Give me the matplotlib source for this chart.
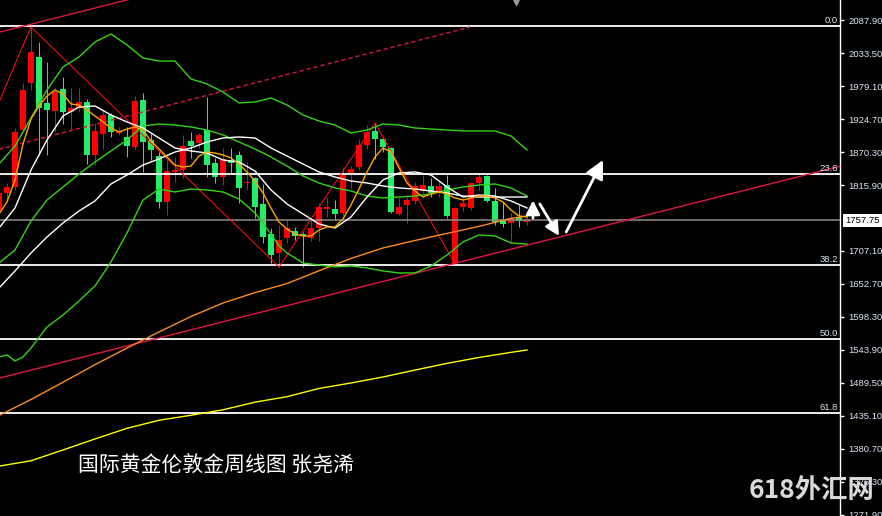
import matplotlib
matplotlib.use('Agg')
import matplotlib.pyplot as plt
import matplotlib.transforms as mtransforms

# ---------------- data (weekly gold candles) ----------------
opens = [1774.7, 1802.7, 1812.6, 1906.6, 1984.1, 2026.9, 1951.1, 1937.9, 1974.2, 1936.3,
         1942.9, 1952.8, 1865.4, 1900.0, 1931.3, 1901.6, 1895.1, 1878.6, 1956.0, 1890.1,
         1863.7, 1787.9, 1837.4, 1840.7, 1888.5, 1885.2, 1906.6, 1852.2, 1829.1, 1857.1,
         1865.4, 1819.2, 1827.5, 1784.6, 1735.2, 1703.8, 1728.6, 1740.1, 1735.2, 1728.6,
         1745.0, 1776.4, 1776.4, 1769.8, 1835.7, 1845.6, 1881.9, 1904.9, 1891.8, 1876.9,
         1768.1, 1783.0, 1789.6, 1806.0, 1814.3, 1804.4, 1815.9, 1687.3, 1779.7, 1778.0,
         1819.2, 1830.8, 1789.6, 1756.6, 1753.3, 1763.2, 1754.9]
highs = [1807.7, 1819.2, 1909.9, 1984.1, 2076.4, 2051.7, 2018.7, 1975.8, 1994.0, 1975.8,
         1975.8, 1957.7, 1918.1, 1939.6, 1934.6, 1911.5, 1911.5, 1962.6, 1967.6, 1901.6,
         1870.3, 1857.1, 1862.1, 1898.4, 1903.3, 1901.6, 1961.0, 1860.4, 1876.9, 1876.9,
         1872.0, 1853.8, 1829.1, 1817.6, 1745.0, 1750.0, 1758.2, 1746.7, 1738.4, 1761.5,
         1786.3, 1796.1, 1791.2, 1845.6, 1847.2, 1891.8, 1914.8, 1918.1, 1895.1, 1878.6,
         1794.5, 1796.1, 1820.9, 1832.4, 1827.5, 1820.9, 1832.4, 1779.7, 1794.5, 1820.9,
         1835.7, 1832.4, 1811.0, 1787.9, 1769.8, 1783.0, 1764.8]
lows = [1766.5, 1791.2, 1807.7, 1903.3, 1972.5, 1865.4, 1865.4, 1903.3, 1916.5, 1906.6,
        1936.3, 1850.5, 1848.9, 1875.3, 1895.1, 1898.4, 1862.1, 1875.3, 1837.4, 1857.1,
        1778.0, 1766.5, 1820.9, 1827.5, 1860.4, 1876.9, 1829.1, 1819.2, 1815.9, 1835.7,
        1786.3, 1807.7, 1761.5, 1720.3, 1687.3, 1680.8, 1720.3, 1725.3, 1680.8, 1723.6,
        1723.6, 1763.2, 1758.2, 1764.8, 1811.0, 1840.7, 1875.3, 1858.8, 1870.3, 1769.8,
        1766.5, 1753.3, 1784.6, 1802.7, 1796.1, 1796.1, 1761.5, 1685.7, 1773.1, 1774.7,
        1807.7, 1787.9, 1750.0, 1746.7, 1722.0, 1746.7, 1750.0]
closes = [1802.7, 1812.6, 1903.3, 1972.5, 2035.2, 1942.9, 1939.6, 1969.2, 1936.3, 1942.9,
          1952.8, 1865.4, 1904.9, 1931.3, 1903.3, 1904.9, 1880.2, 1954.4, 1886.8, 1873.6,
          1787.9, 1839.0, 1840.7, 1880.2, 1880.2, 1898.4, 1848.9, 1829.1, 1858.8, 1852.2,
          1811.0, 1820.9, 1779.7, 1730.2, 1700.5, 1725.3, 1745.0, 1731.9, 1731.9, 1745.0,
          1779.7, 1779.7, 1768.1, 1834.1, 1842.3, 1881.9, 1903.3, 1891.8, 1878.6, 1771.4,
          1779.7, 1791.2, 1814.3, 1815.9, 1802.7, 1814.3, 1764.8, 1778.0, 1786.3, 1819.2,
          1829.1, 1789.6, 1754.9, 1751.6, 1761.5, 1756.6, 1757.75]

# fast moving average (orange), one value per candle
ma_fast = [1768.1, 1787.9, 1824.2, 1883.5, 1924.7, 1946.2, 1962.6, 1972.5, 1965.9, 1949.5,
           1947.8, 1939.6, 1929.7, 1919.8, 1909.9, 1903.3, 1908.2, 1911.5, 1906.6, 1888.5,
           1875.3, 1862.1, 1848.9, 1845.6, 1847.2, 1863.7, 1870.3, 1868.7, 1865.4, 1860.4,
           1850.5, 1837.4, 1822.5, 1802.7, 1778.0, 1754.9, 1743.4, 1735.2, 1731.9, 1731.9,
           1741.7, 1746.7, 1746.7, 1759.9, 1783.0, 1809.3, 1837.4, 1862.1, 1876.9, 1870.3,
           1844.0, 1819.2, 1806.0, 1796.1, 1801.1, 1804.4, 1801.1, 1794.5, 1791.2, 1794.5,
           1797.8, 1797.8, 1794.5, 1787.9, 1774.7, 1764.8, 1763.2]

# lines sampled every second candle
idx2 = [0, 2, 4, 6, 8, 10, 12, 14, 16, 18, 20, 22, 24, 26, 28, 30, 32,
        34, 36, 38, 40, 42, 44, 46, 48, 50, 52, 54, 56, 58, 60, 62, 64, 66]
ma_white1 = [1745.0, 1778.0, 1840.7, 1890.1, 1929.7, 1944.5, 1946.2, 1931.3, 1919.8, 1909.9,
             1893.4, 1876.9, 1872.0, 1868.7, 1857.1, 1853.8, 1839.0, 1807.7, 1784.6, 1768.1,
             1751.6, 1745.0, 1763.2, 1796.1, 1824.2, 1835.7, 1837.4, 1832.4, 1812.6, 1796.1,
             1799.4, 1797.8, 1789.6, 1778.0]
ma_white2 = [1646.1, 1674.2, 1703.8, 1730.2, 1753.3, 1773.1, 1789.6, 1817.6, 1832.4, 1848.9,
             1858.8, 1870.3, 1876.9, 1886.8, 1893.4, 1895.1, 1893.4, 1876.9, 1863.7, 1850.5,
             1837.4, 1829.1, 1822.5, 1819.2, 1814.3, 1811.0, 1809.3, 1806.0, 1802.7, 1797.8,
             1796.1, 1796.1, 1796.1, 1796.1]
bb_upper = [1850.5, 1880.2, 1926.4, 1972.5, 2010.5, 2026.9, 2051.7, 2064.9, 2046.7, 2025.3,
            2020.3, 2020.3, 1990.7, 1982.4, 1969.2, 1951.1, 1952.8, 1959.3, 1947.8, 1931.3,
            1921.4, 1914.8, 1901.6, 1906.6, 1916.5, 1914.8, 1909.9, 1908.2, 1906.6, 1904.9,
            1904.9, 1904.9, 1896.7, 1873.6]
bb_middle = [1687.3, 1708.8, 1756.6, 1791.2, 1812.6, 1834.1, 1853.8, 1872.0, 1890.1, 1913.2,
             1916.5, 1914.8, 1911.5, 1906.6, 1898.4, 1886.8, 1875.3, 1862.1, 1847.2, 1830.8,
             1819.2, 1811.0, 1806.0, 1797.8, 1794.5, 1796.1, 1797.8, 1801.1, 1807.7, 1812.6,
             1815.9, 1817.6, 1811.0, 1797.8]
bb_lower_idx = [0, 1, 2, 3, 4, 6, 8, 10, 12, 14, 16, 18, 20, 22, 24, 26, 28, 30, 32, 34, 35,
                36, 38, 40, 42, 44, 46, 48, 50, 52, 54, 56, 58, 60, 62, 64, 66]
bb_lower = [1532.4, 1535.7, 1525.8, 1532.4, 1547.2, 1581.8, 1601.6, 1624.7, 1649.4, 1689.0,
            1736.8, 1791.2, 1809.3, 1804.4, 1809.3, 1807.7, 1804.4, 1792.8, 1769.8, 1735.2,
            1715.4, 1703.8, 1687.3, 1684.0, 1680.8, 1682.4, 1679.1, 1674.2, 1670.9, 1670.9,
            1682.4, 1700.5, 1722.0, 1733.5, 1731.9, 1720.3, 1718.7]

# slow averages sampled every fourth candle (+ last)
idx4 = [0, 4, 8, 12, 16, 20, 24, 28, 32, 36, 40, 44, 48, 52, 56, 60, 64, 66]
ma_orange_slow = [1435.9, 1462.3, 1490.7, 1519.7, 1547.2, 1573.6, 1599.1, 1621.4, 1638.5,
                  1653.4, 1674.5, 1694.8, 1712.1, 1724.4, 1736.1, 1747.7, 1760.9, 1764.8]
ma_yellow = [1352.4, 1361.3, 1379.1, 1397.2, 1414.8, 1428.0, 1436.3, 1445.3, 1457.9, 1466.9,
             1480.5, 1489.5, 1499.4, 1510.8, 1521.8, 1531.6, 1540.0, 1543.9]

# zigzag pivots
zigzag_x = [0, 4, 35, 47, 57]
zigzag_y = [1952.8, 2076.4, 1680.8, 1918.1, 1685.7]

# trend lines (candle index, price)
trend_low_x, trend_low_y = [0, 105.2], [1497.4, 1847.0]
trend_top_x, trend_top_y = [0, 17], [2067.7, 2124.3]
trend_dash_x, trend_dash_y = [0, 58.9], [1874.8, 2076.4]

# Fibonacci levels
fib_levels = [2078.0, 1834.4, 1683.8, 1562.0, 1440.2]
fib_labels = ['0.0', '23.6', '38.2', '50.0', '61.8']

last_price = 1757.75
ytick_vals = [2087.90, 2033.50, 1979.10, 1924.70, 1870.30, 1815.90, 1707.10, 1652.70,
              1598.30, 1543.90, 1489.50, 1435.10, 1380.70, 1326.30, 1271.90]

# hand-drawn arrows (start, end)
arrows = [((66.75, 1761.5), (66.75, 1790.5), 15),
          ((67.6, 1784.6), (70.0, 1731.9), 15),
          ((70.9, 1738.4), (75.5, 1857.1), 20)]

title_text = '国际黄金伦敦金周线图 张尧浠'
watermark = '618外汇网'

# ---------------- drawing ----------------
W, H = 882, 516
fig = plt.figure(figsize=(W / 100, H / 100), dpi=100, facecolor='black')
ax = fig.add_axes([0, 0, 840 / W, 1])
ax.set_facecolor('black')
ax.set_xlim(0.125, 105.125)
ax.set_ylim(1270.2, 2120.9)

UP = '#FF0000'
DOWN = '#22EE66'
BAND = '#33D414'
TXT = '#DCE6F5'
px = 0.72  # one pixel in points

# candles
min_h = 1.6
for i, (o, h, l, c) in enumerate(zip(opens, highs, lows, closes)):
    col = UP if c >= o else DOWN
    ax.vlines(i, l, h, color=col, lw=px, zorder=2)
    bot = min(o, c)
    hgt = max(abs(c - o), min_h)
    ax.bar(i, hgt, bottom=bot, width=0.66, color=col, linewidth=0, zorder=3)

# fib levels
for lv in fib_levels:
    ax.axhline(lv, color='white', lw=1.3, zorder=4)
for lv, lab in zip(fib_levels, fib_labels):
    ax.annotate(lab, xy=(838 / 840, lv), xycoords=('axes fraction', 'data'),
                xytext=(0, 0.8), textcoords='offset points', ha='right', va='bottom',
                color=TXT, fontsize=6.8, family='Liberation Sans', zorder=6)

# current price line
ax.axhline(last_price, color='#8C8C8C', lw=1.1, zorder=4)

# trend lines
ax.plot(trend_low_x, trend_low_y, color='#E01640', lw=1.0, zorder=5)
ax.plot(trend_top_x, trend_top_y, color='#E01640', lw=1.0, zorder=5)
ax.plot(trend_dash_x, trend_dash_y, color='#E01640', lw=1.0, ls=(0, (3, 2.2)), zorder=5)

# zigzag
ax.plot(zigzag_x, zigzag_y, color='#FF1010', lw=px, zorder=5)

# indicators
ax.plot(idx4, ma_yellow, color='#FFFF00', lw=1.0, zorder=5)
ax.plot(idx4, ma_orange_slow, color='#FF8C1A', lw=1.0, zorder=5)
ax.plot(idx2, bb_upper, color=BAND, lw=1.0, zorder=5)
ax.plot(idx2, bb_middle, color=BAND, lw=1.0, zorder=5)
ax.plot(bb_lower_idx, bb_lower, color=BAND, lw=1.0, zorder=5)
ax.plot(idx2, ma_white2, color='white', lw=1.0, zorder=5)
ax.plot(idx2, ma_white1, color='white', lw=1.0, zorder=5)
ax.plot(range(len(ma_fast)), ma_fast, color='#FFA500', lw=1.0, zorder=6)

# arrows
for (x0, y0), (x1, y1), ms in arrows:
    ax.annotate('', xy=(x1, y1), xytext=(x0, y0),
                arrowprops=dict(arrowstyle='-|>,head_length=0.55,head_width=0.28',
                                color='white', lw=2.0, shrinkA=0, shrinkB=0,
                                mutation_scale=ms), zorder=7)

# little grey marker at the top
ax.plot([64.6], [2119.5], marker='v', color='#9A9A9A', markersize=6, zorder=7, clip_on=True)

# axis styling
for s in ['top', 'left', 'bottom']:
    ax.spines[s].set_visible(False)
ax.spines['right'].set_color('white')
ax.spines['right'].set_linewidth(1.0)
ax.set_xticks([])
ax.yaxis.tick_right()
ax.set_yticks(ytick_vals)
ax.set_yticklabels([f'{v:.2f}' for v in ytick_vals])
ax.tick_params(axis='y', colors='white', labelcolor=TXT, length=3, width=1, pad=3,
               labelsize=6.8)
for t in ax.get_yticklabels():
    t.set_family('Liberation Sans')

# current price box
trans = mtransforms.blended_transform_factory(ax.transAxes, ax.transData)
ax.text(1.0 + 5 / 840, last_price, f'{last_price:.2f}', transform=trans, ha='left',
        va='center', color='black', fontsize=6.8, family='Liberation Sans',
        bbox=dict(facecolor='white', edgecolor='none', pad=1.6), clip_on=False, zorder=8)

# title and watermark
fig.text(78 / W, 1 - 466 / H, title_text, color='white', fontsize=15,
         family=['Noto Sans CJK SC', 'DejaVu Sans'], ha='left', va='center')
fig.text(812 / W, 1 - 491 / H, watermark, color='#D9D9D9', fontsize=19, fontweight='bold',
         family=['Noto Sans CJK SC', 'DejaVu Sans'], ha='center', va='center', zorder=10)

fig.savefig('out.png', dpi=100, facecolor='black')
